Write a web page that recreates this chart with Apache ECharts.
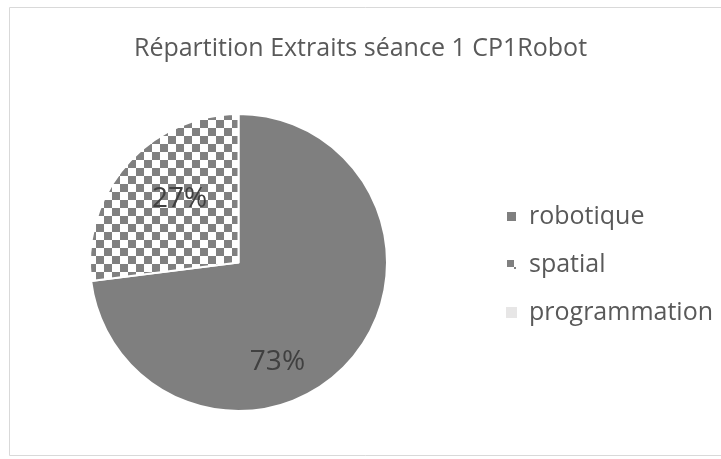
<!DOCTYPE html>
<html>
<head>
<meta charset="utf-8">
<script src="https://cdn.jsdelivr.net/npm/echarts@6/dist/echarts.min.js"></script>
<style>
  html, body { margin: 0; padding: 0; background: #fff; }
  #chart { width: 721px; height: 459px; }
</style>
</head>
<body>
<div id="chart"></div>
<script>
// données du graphique
const categories = ['robotique', 'spatial', 'programmation']
const values = [73, 27, 0]
const titleText = 'Répartition Extraits séance 1 CP1Robot'

// motif damier pour "spatial"
function checker() {
  const c = document.createElement('canvas')
  c.width = 16
  c.height = 16
  const ctx = c.getContext('2d')
  ctx.fillStyle = '#ffffff'
  ctx.fillRect(0, 0, 16, 16)
  ctx.fillStyle = '#808080'
  ctx.fillRect(0, 0, 8, 8)
  ctx.fillRect(8, 8, 8, 8)
  return c
}

const fills = ['#7f7f7f', { image: checker(), repeat: 'repeat' }, '#e7e6e6']
// décalage des étiquettes (placement "best fit" d'Excel)
const labelShift = [[-19, 48], [-1, -12], [0, 0]]

const chart = echarts.init(document.getElementById('chart'))
chart.setOption({
  animation: false,
  title: {
    text: titleText,
    left: 'center',
    top: 31,
    textStyle: {
      fontFamily: 'Open Sans',
      fontSize: 25,
      fontWeight: 'normal',
      color: '#595959'
    }
  },
  graphic: [{
    type: 'rect',
    shape: { x: 9.5, y: 7.5, width: 730, height: 448 },
    style: { fill: 'none', stroke: '#d9d9d9', lineWidth: 1 },
    silent: true
  }],
  legend: {
    orient: 'vertical',
    left: 500,
    top: 199,
    itemWidth: 11,
    itemHeight: 11,
    itemGap: 23,
    icon: 'rect',
    data: categories,
    textStyle: {
      fontFamily: 'Open Sans',
      fontSize: 25,
      color: '#595959',
      padding: [0, 0, 0, 7]
    }
  },
  series: [{
    type: 'pie',
    center: [238.5, 262.5],
    radius: 148.5,
    startAngle: 90,
    clockwise: true,
    itemStyle: { borderColor: '#ffffff', borderWidth: 2 },
    label: {
      show: true,
      position: 'inside',
      formatter: '{d}%',
      fontFamily: 'Open Sans',
      fontSize: 28,
      color: '#404040'
    },
    labelLayout: function (p) {
      return { dx: labelShift[p.dataIndex][0], dy: labelShift[p.dataIndex][1] }
    },
    emphasis: { disabled: true },
    data: categories.map((name, i) => ({
      name: name,
      value: values[i],
      itemStyle: { color: fills[i], borderWidth: values[i] > 0 ? 2 : 0 },
      label: { show: values[i] > 0 }
    }))
  }]
})
</script>
</body>
</html>
